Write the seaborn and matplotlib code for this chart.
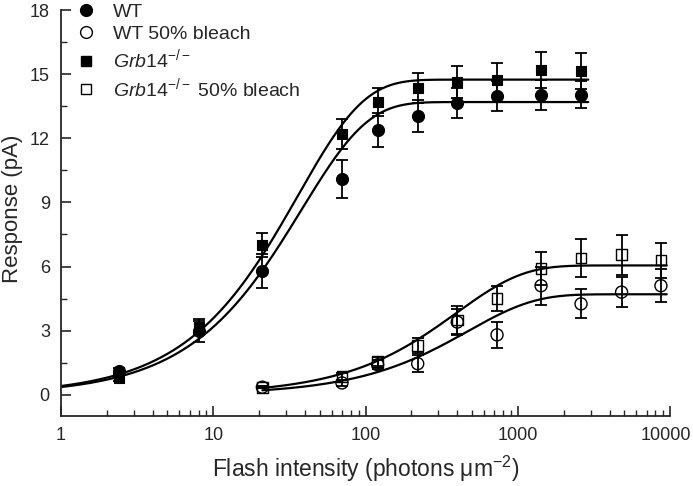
import numpy as np
import pandas as pd
import seaborn as sns
import matplotlib
matplotlib.use("Agg")
import matplotlib.pyplot as plt
import matplotlib.transforms as mtransforms
from matplotlib.lines import Line2D
from matplotlib.ticker import LogLocator, NullFormatter, FixedLocator

# flash intensities (photons um^-2)
x_dark = [2.4, 8, 21, 70, 120, 220, 400, 730, 1420, 2600]
x_bleach = [21, 70, 120, 220, 400, 730, 1420, 2600, 4800, 8700]

# responses (pA) and error bars
wt = [1.1, 3.0, 5.8, 10.1, 12.4, 13.05, 13.65, 14.0, 14.05, 14.05]
wt_err = [0.15, 0.55, 0.8, 0.9, 0.8, 0.75, 0.7, 0.7, 0.7, 0.65]
grb = [0.8, 3.15, 7.0, 12.2, 13.7, 14.35, 14.65, 14.75, 15.2, 15.15]
grb_err = [0.15, 0.3, 0.55, 0.7, 0.65, 0.7, 0.75, 0.8, 0.85, 0.85]
wt_bl = [0.35, 0.55, 1.4, 1.45, 3.4, 2.8, 5.1, 4.25, 4.8, 5.1]
wt_bl_err = [0.05, 0.15, 0.2, 0.4, 0.6, 0.6, 0.9, 0.68, 0.7, 0.76]
grb_bl = [0.35, 0.85, 1.55, 2.3, 3.5, 4.5, 5.9, 6.4, 6.55, 6.3]
grb_bl_err = [0.05, 0.15, 0.2, 0.35, 0.65, 0.6, 0.78, 0.87, 0.94, 0.82]

# exponential saturation fits: R = Rmax * (1 - exp(-I / I0))
fit_rmax = [13.7, 14.75, 4.7, 6.05]
fit_i0 = [38, 36, 470, 395]
fit_range = [(1, 2900), (1, 2900), (21, 9500), (21, 9500)]

labels = ["WT", "WT 50% bleach",
          r"$\mathit{Grb14}^{\mathit{-/-}}$",
          r"$\mathit{Grb14}^{\mathit{-/-}}$ 50% bleach"]

sns.set_style("ticks")
plt.rcParams["font.family"] = ["Liberation Sans", "DejaVu Sans"]
plt.rcParams["mathtext.fontset"] = "custom"
plt.rcParams["mathtext.rm"] = "Liberation Sans"
plt.rcParams["mathtext.it"] = "Liberation Sans:italic"
plt.rcParams["mathtext.default"] = "regular"

fig = plt.figure(figsize=(6.93, 4.86), dpi=100)
ax = fig.add_axes([0.088, 0.144, 0.879, 0.835])

# fitted curves
for rmax, i0, (lo, hi) in zip(fit_rmax, fit_i0, fit_range):
    xx = np.logspace(np.log10(lo), np.log10(hi), 400)
    yy = rmax * (1 - np.exp(-xx / i0))
    sns.lineplot(x=xx, y=yy, color="black", lw=1.6, ax=ax, zorder=2)

series = [
    (x_dark, wt, wt_err, "o", True),
    (x_bleach, wt_bl, wt_bl_err, "o", False),
    (x_dark, grb, grb_err, "s", True),
    (x_bleach, grb_bl, grb_bl_err, "s", False),
]

for xs, ys, es, mk, filled in series:
    ax.errorbar(xs, ys, yerr=es, fmt="none", ecolor="black", elinewidth=1.3,
                capsize=4, capthick=1.3, zorder=3)
    size = 75 if mk == "o" else 60
    if filled:
        sns.scatterplot(x=xs, y=ys, marker=mk, s=size, color="black",
                        edgecolor="black", linewidth=0.8, ax=ax, zorder=4)
    else:
        sns.scatterplot(x=xs, y=ys, marker=mk, s=size, facecolors="none",
                        edgecolors="black", linewidth=1.0, ax=ax, zorder=4)

ax.set_xscale("log")
ax.set_xlim(1, 10000)
ax.set_ylim(-1, 18)
ax.set_xticks([1, 10, 100, 1000, 10000])
ax.set_xticklabels(["1", "10", "100", "1000", "10000"])
ax.xaxis.set_minor_locator(LogLocator(base=10, subs=np.arange(2, 10)))
ax.xaxis.set_minor_formatter(NullFormatter())
ax.yaxis.set_major_locator(FixedLocator([0, 3, 6, 9, 12, 15, 18]))
ax.yaxis.set_minor_locator(FixedLocator([1.5, 4.5, 7.5, 10.5, 13.5, 16.5]))

ax.tick_params(which="major", direction="in", length=7, width=1.2, labelsize=13, pad=8)
ax.tick_params(which="minor", direction="in", length=4, width=1.0)
for side in ["left", "bottom"]:
    ax.spines[side].set_linewidth(1.3)
sns.despine(ax=ax)

# keep the last x tick label inside the figure
last = ax.get_xticklabels()[-1]
last.set_transform(last.get_transform() + mtransforms.ScaledTranslation(-4 / 100, 0, fig.dpi_scale_trans))

ax.set_xlabel(r"Flash intensity (photons $\mathregular{\mu}$m$^{-2}$)", fontsize=16.5, labelpad=7)
ax.set_ylabel("Response (pA)", fontsize=16)
ax.yaxis.set_label_coords(-0.062, 0.51)

handles = [
    Line2D([], [], marker="o", ls="none", color="black", mfc="black", markersize=8.5),
    Line2D([], [], marker="o", ls="none", color="black", mfc="none", markersize=8.5, mew=1.0),
    Line2D([], [], marker="s", ls="none", color="black", mfc="black", markersize=7.5),
    Line2D([], [], marker="s", ls="none", color="black", mfc="none", markersize=7.5, mew=1.0),
]
fig.legend(handles, labels, loc="upper left", bbox_to_anchor=(72 / 693, 1 - 3 / 486),
           frameon=False, fontsize=14, handlelength=1.4, handletextpad=0.7,
           labelspacing=0.24, borderpad=0, borderaxespad=0)

fig.savefig("out.png", dpi=100)
